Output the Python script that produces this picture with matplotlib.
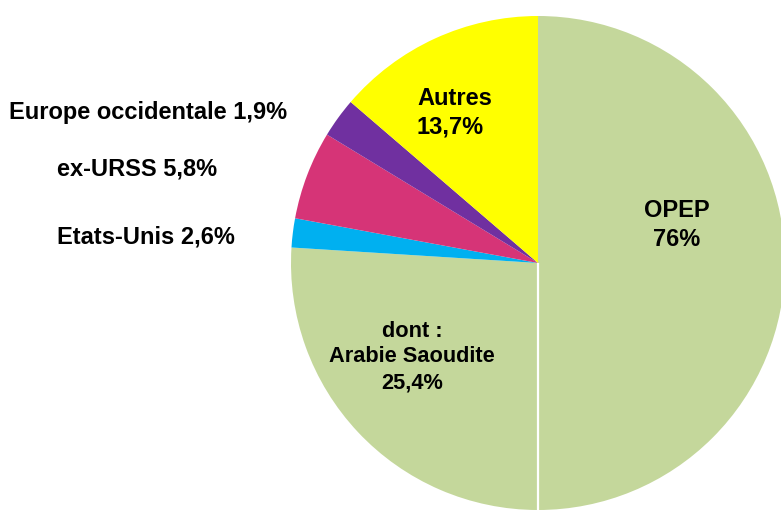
import numpy as np
import matplotlib
matplotlib.use("Agg")
import matplotlib.pyplot as plt

# pie slices, clockwise from the top
slices = ["OPEP (hors Arabie)", "Arabie Saoudite", "Etats-Unis", "ex-URSS",
          "Europe occidentale", "Autres"]
values = [50.0, 26.0, 1.9, 5.8, 2.6, 13.7]
colors = ["#C4D79B", "#C4D79B", "#00B0F0", "#D63477", "#7030A0", "#FFFF00"]

# labels as printed on the chart
inner_labels = ["OPEP\n76%", "dont :\nArabie Saoudite\n25,4%", "Autres\n13,7%"]
outer_labels = ["Europe occidentale 1,9%", "ex-URSS 5,8%", "Etats-Unis 2,6%"]

plt.rcParams['font.family'] = ['Liberation Sans', 'DejaVu Sans']

W, H = 781, 512
fig = plt.figure(figsize=(W / 100, H / 100), dpi=100)
ax = fig.add_axes([0, 0, 1, 1])

cx, cy, r = 538, 512 - 263, 247   # pie centre and radius in pixels

wedges, _ = ax.pie(values, colors=colors, startangle=90, counterclock=False,
                   radius=1, wedgeprops=dict(linewidth=0))

# white separator between the two OPEP parts
ang = np.deg2rad(wedges[1].theta2)
ax.plot([0, np.cos(ang)], [0, np.sin(ang)], color="white", lw=1.6,
        solid_capstyle="butt")

ax.set_aspect("auto")
ax.set_xlim(-cx / r, (W - cx) / r)
ax.set_ylim(-cy / r, (H - cy) / r)
ax.axis("off")


def px(x, y):
    return (x - cx) / r, ((H - y) - cy) / r


kw = dict(fontweight="bold", color="black", va="center")
ax.text(*px(677, 225), inner_labels[0], ha="center", fontsize=17,
        linespacing=1.3, **kw)
ax.text(*px(412, 357), inner_labels[1], ha="center", fontsize=15.7,
        linespacing=1.3, **kw)
ax.text(*px(417, 113), inner_labels[2], ha="left", fontsize=17,
        linespacing=1.3, **kw)

ax.text(*px(9, 113), outer_labels[0], ha="left", fontsize=17, **kw)
ax.text(*px(57, 169), outer_labels[1], ha="left", fontsize=17, **kw)
ax.text(*px(57, 237), outer_labels[2], ha="left", fontsize=17, **kw)

fig.savefig("out.png", dpi=100)
